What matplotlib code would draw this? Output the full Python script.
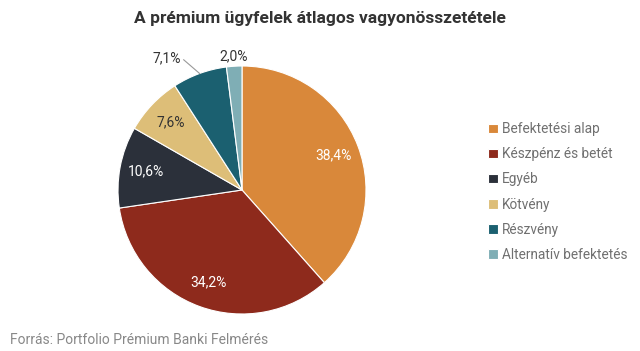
import matplotlib.pyplot as plt
import numpy as np

plt.rcParams['font.family'] = ['Roboto', 'DejaVu Sans']

categories = ['Befektetési alap', 'Készpénz és betét', 'Egyéb', 'Kötvény',
              'Részvény', 'Alternatív befektetés']
values = [38.4, 34.2, 10.6, 7.6, 7.1, 2.0]
labels = ['38,4%', '34,2%', '10,6%', '7,6%', '7,1%', '2,0%']
colors = ['#D9883A', '#8E2A1C', '#2B303A', '#DDBE78', '#1B6070', '#7FAEB5']

fig = plt.figure(figsize=(6.4, 3.51), dpi=100)
ax = fig.add_axes([118 / 640, 37 / 351, 248 / 640, 248 / 351])

wedges, _ = ax.pie(values, colors=colors, startangle=90, counterclock=False,
                   radius=1, wedgeprops=dict(edgecolor='white', linewidth=0.8))
ax.set_xlim(-1, 1)
ax.set_ylim(-1, 1)
ax.set_aspect('equal')

# label placement
total = sum(values)
cum = np.cumsum([0] + values[:-1])
for i, (v, lab) in enumerate(zip(values, labels)):
    mid = np.deg2rad(90 - (cum[i] + v / 2) / total * 360)
    if i == 4:
        ex, ey = np.cos(mid), np.sin(mid)
        tx, ty = -0.47, 1.05
        ax.plot([ex, tx], [ey, ty], color='#999999', lw=0.8, clip_on=False)
        ax.text(tx - 0.02, ty + 0.01, lab, ha='right', va='center', fontsize=10,
                color='#333333')
    elif i == 5:
        r = 1.08
        ax.text(r * np.cos(mid), r * np.sin(mid), lab, ha='center', va='center',
                fontsize=10, color='#333333')
    else:
        r = 0.79
        c = '#333333' if i == 3 else 'white'
        ax.text(r * np.cos(mid), r * np.sin(mid), lab, ha='center', va='center',
                fontsize=10, color=c)

fig.text(0.5, 1 - 18 / 351, 'A prémium ügyfelek átlagos vagyonösszetétele',
         ha='center', va='center', fontsize=12.5, fontweight='bold', color='#333333')

fig.legend(wedges, categories, loc='center left',
           bbox_to_anchor=(476 / 640, 1 - 192 / 351), frameon=False,
           fontsize=9.8, labelcolor='#707070', handlelength=0.7, handleheight=0.7,
           handletextpad=0.3, labelspacing=0.82)

fig.text(10 / 640, 1 - 340 / 351, 'Forrás: Portfolio Prémium Banki Felmérés',
         ha='left', va='center', fontsize=10, color='#888888')

fig.savefig('out.png', dpi=100)
